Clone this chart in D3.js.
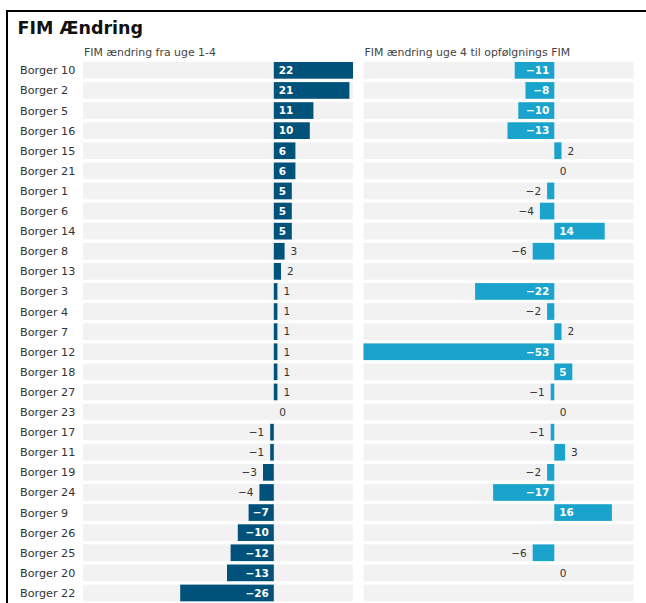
<!DOCTYPE html>
<html>
<head>
<meta charset="utf-8">
<script src="https://cdn.jsdelivr.net/npm/d3@7/dist/d3.min.js"></script>
<style>
  html, body { margin: 0; padding: 0; background: #fff; }
  svg { display: block; font-family: "DejaVu Sans", sans-serif; }
</style>
</head>
<body>
<svg id="chart" width="646" height="603"></svg>
<script>
// Borger names, top to bottom
const borgere = ["Borger 10","Borger 2","Borger 5","Borger 16","Borger 15","Borger 21","Borger 1","Borger 6","Borger 14","Borger 8","Borger 13","Borger 3","Borger 4","Borger 7","Borger 12","Borger 18","Borger 27","Borger 23","Borger 17","Borger 11","Borger 19","Borger 24","Borger 9","Borger 26","Borger 25","Borger 20","Borger 22"];
// FIM change week 1-4
const uge1til4 = [22,21,11,10,6,6,5,5,5,3,2,1,1,1,1,1,1,0,-1,-1,-3,-4,-7,-10,-12,-13,-26];
// FIM change week 4 to follow-up (null = no follow-up)
const uge4tilOpf = [-11,-8,-10,-13,2,0,-2,-4,14,-6,null,-22,-2,2,-53,5,-1,0,-1,3,-2,-17,16,null,-6,0,null];

const panelTitles = ["FIM ændring fra uge 1-4", "FIM ændring uge 4 til opfølgnings FIM"];
const panelColors = ["#00527a", "#19a3cd"];

const svg = d3.select("#chart");

// frame
svg.append("path")
  .attr("d", "M7,603 V11 H646")
  .attr("fill", "none").attr("stroke", "#000").attr("stroke-width", 2);

svg.append("text")
  .attr("x", 17.5).attr("y", 33.5)
  .attr("font-size", 17.5).attr("font-weight", 700).attr("fill", "#111")
  .text("FIM Ændring");

const y = d3.scaleBand().domain(borgere).range([62, 601.3]).paddingInner(0.17).paddingOuter(0);

// row labels
svg.append("g").selectAll("text").data(borgere).join("text")
  .attr("x", 20).attr("y", d => y(d) + y.bandwidth() / 2)
  .attr("dy", "0.36em").attr("font-size", 11.2).attr("fill", "#333")
  .text(d => d);

// both panels share one value domain
const allVals = uge1til4.concat(uge4tilOpf.filter(v => v != null));
const domain = d3.extent(allVals);
const panels = [[83, 353], [363.5, 633.5]];
const fmt = v => (v < 0 ? "\u2212" + Math.abs(v) : String(v));

[uge1til4, uge4tilOpf].forEach((vals, p) => {
  const x = d3.scaleLinear().domain(domain).range(panels[p]);
  const g = svg.append("g");
  const rows = borgere.map((b, i) => ({ b, v: vals[i] }));

  g.append("text")
    .attr("x", panels[p][0] + 1).attr("y", 55.5)
    .attr("font-size", 10.9).attr("fill", "#444")
    .text(panelTitles[p]);

  g.selectAll("rect.bg").data(rows).join("rect").attr("class", "bg")
    .attr("x", panels[p][0]).attr("width", panels[p][1] - panels[p][0])
    .attr("y", d => y(d.b)).attr("height", y.bandwidth())
    .attr("fill", "#f2f2f2");

  const data = rows.filter(d => d.v != null);
  g.selectAll("rect.bar").data(data).join("rect").attr("class", "bar")
    .attr("x", d => x(Math.min(0, d.v)))
    .attr("width", d => Math.abs(x(d.v) - x(0)))
    .attr("y", d => y(d.b)).attr("height", y.bandwidth())
    .attr("fill", panelColors[p]);

  g.selectAll("text.val").data(data).join("text").attr("class", "val")
    .attr("y", d => y(d.b) + y.bandwidth() / 2).attr("dy", "0.36em")
    .attr("font-size", 10.5)
    .text(d => fmt(d.v))
    .each(function (d) {
      const t = d3.select(this);
      t.attr("font-weight", 700);
      const w = this.getComputedTextLength();
      const barW = Math.abs(x(d.v) - x(0));
      const inside = d.v !== 0 && w + 8 <= barW;
      if (inside) {
        t.attr("fill", "#fff")
         .attr("x", d.v > 0 ? x(0) + 5 : x(0) - 5)
         .attr("text-anchor", d.v > 0 ? "start" : "end");
      } else {
        t.attr("font-weight", 400).attr("fill", "#333")
         .attr("x", d.v >= 0 ? x(d.v) + (d.v === 0 ? 5.5 : 6) : x(d.v) - 6)
         .attr("text-anchor", d.v >= 0 ? "start" : "end");
      }
    });
});
</script>
</body>
</html>
